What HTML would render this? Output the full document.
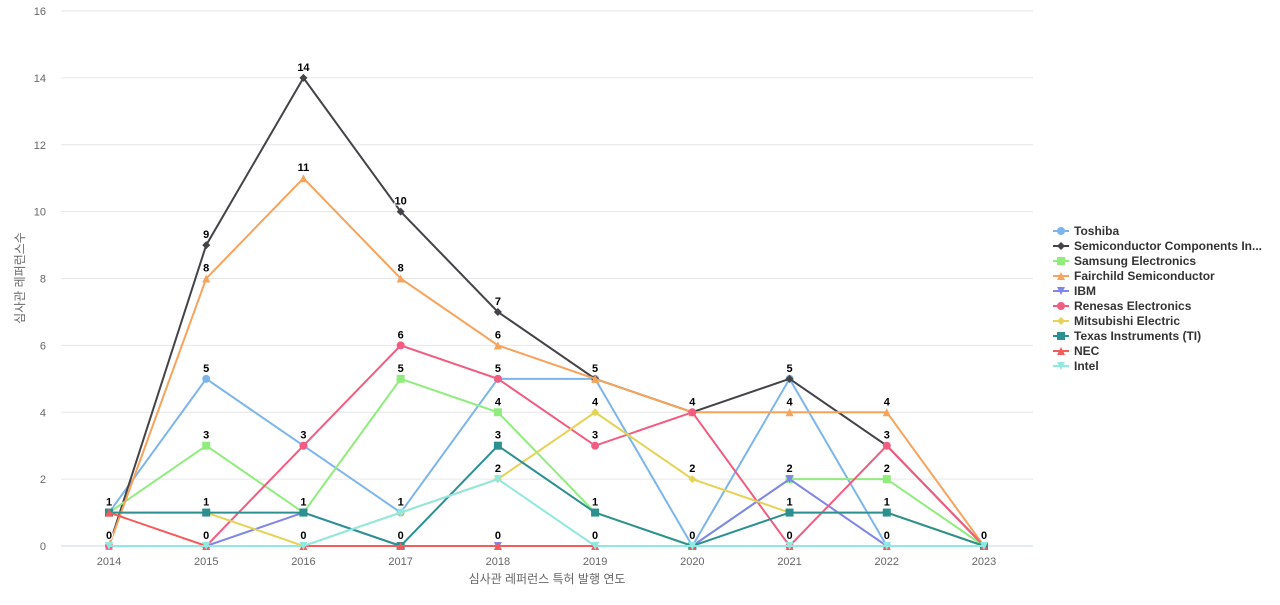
<!DOCTYPE html>
<html><head><meta charset="utf-8"><style>
body{margin:0;background:#fff;font-family:"Liberation Sans","Noto Sans CJK KR",sans-serif}
svg text{font-family:"Liberation Sans","Noto Sans CJK KR",sans-serif}
</style></head><body>
<svg id="chart" width="1280" height="600"></svg>
<script>
const years=[2014,2015,2016,2017,2018,2019,2020,2021,2022,2023];
const yTicks=[0,2,4,6,8,10,12,14,16];
const seriesNames=["Toshiba","Semiconductor Components In...","Samsung Electronics","Fairchild Semiconductor","IBM","Renesas Electronics","Mitsubishi Electric","Texas Instruments (TI)","NEC","Intel"];
const toshiba=[1,5,3,1,5,5,0,5,0,0];
const semiComp=[0,9,14,10,7,5,4,5,3,0];
const samsung=[1,3,1,5,4,1,0,2,2,0];
const fairchild=[0,8,11,8,6,5,4,4,4,0];
const ibm=[0,0,1,0,0,0,0,2,0,0];
const renesas=[0,0,3,6,5,3,4,0,3,0];
const mitsubishi=[1,1,0,1,2,4,2,1,1,0];
const ti=[1,1,1,0,3,1,0,1,1,0];
const nec=[1,0,0,0,0,0,0,0,0,0];
const intel=[0,0,0,1,2,0,0,0,0,0];
const allData=[toshiba,semiComp,samsung,fairchild,ibm,renesas,mitsubishi,ti,nec,intel];
const colors=["#7cb5ec","#434348","#90ed7d","#f7a35c","#8085e9","#f15c80","#e4d354","#2b908f","#f45b5b","#91e8e1"];
const markers=["circle","diamond","square","triangle","tridown","circle","diamond","square","triangle","tridown"];
const NS="http://www.w3.org/2000/svg";
const svg=document.getElementById('chart');
const x0=109,x1=984,yBase=546,yTop=11,yMax=16;
const xS=i=>x0+(x1-x0)*i/(years.length-1);
const yS=v=>yBase-(yBase-yTop)*v/yMax;
function mk(t,a,p){const e=document.createElementNS(NS,t);for(const k in a)e.setAttribute(k,a[k]);(p||svg).appendChild(e);return e;}
function marker(type,cx,cy,c,p){
 let e;
 if(type==="circle")e=mk('circle',{cx,cy,r:4,fill:c},p);
 else if(type==="square")e=mk('rect',{x:cx-4,y:cy-4,width:8,height:8,fill:c},p);
 else if(type==="diamond")e=mk('path',{d:`M${cx} ${cy-4}L${cx+4} ${cy}L${cx} ${cy+4}L${cx-4} ${cy}Z`,fill:c},p);
 else if(type==="triangle")e=mk('path',{d:`M${cx} ${cy-4}L${cx+4} ${cy+4}L${cx-4} ${cy+4}Z`,fill:c},p);
 else e=mk('path',{d:`M${cx-4} ${cy-4}L${cx+4} ${cy-4}L${cx} ${cy+4}Z`,fill:c},p);
 return e;
}
yTicks.forEach(v=>{
 const g=mk('line',{x1:61,x2:1033,y1:yS(v),y2:yS(v),stroke:v===0?'#ccd6eb':'#e6e6e6','stroke-width':1});
 
 
 const t=mk('text',{x:46,y:yS(v)+4,'text-anchor':'end','font-size':11,fill:'#666'});t.textContent=v;
 
 
});
years.forEach((yr,i)=>{
 const t=mk('text',{x:xS(i),y:565,'text-anchor':'middle','font-size':11,fill:'#666'});t.textContent=yr;
 
 
});
const xt=mk('text',{x:547,y:583,'text-anchor':'middle','font-size':12,fill:'#666'});xt.textContent='심사관 레퍼런스 특허 발행 연도';


const yt=mk('text',{x:0,y:0,'text-anchor':'middle','font-size':12,fill:'#666',transform:'translate(24,278) rotate(-90)'});yt.textContent='심사관 레퍼런스수';


const labelsG=[];
allData.forEach((d,s)=>{
 const g=mk('g',{});
 
 
 mk('path',{d:d.map((v,i)=>(i?'L':'M')+xS(i)+' '+yS(v)).join(''),fill:'none',stroke:colors[s],'stroke-width':2},g);
 d.forEach((v,i)=>{
  const m=marker(markers[s],xS(i),yS(v),colors[s],g);
  
  
 });
 const lg=mk('g',{});labelsG.push(lg);
 d.forEach((v,i)=>{
  const t=mk('text',{x:xS(i),y:yS(v)-7,'text-anchor':'middle','font-size':11,'font-weight':'bold',fill:'#000',stroke:'#fff','stroke-width':2,'paint-order':'stroke'},lg);
  t.textContent=v;
  
  
 });
});
labelsG.forEach(g=>svg.appendChild(g));
seriesNames.forEach((n,s)=>{
 const y=231+s*15;
 const g=mk('g',{});
 
 
 mk('line',{x1:1053,x2:1069,y1:y,y2:y,stroke:colors[s],'stroke-width':2},g);
 marker(markers[s],1061,y,colors[s],g);
 const t=mk('text',{x:1074,y:y+4,'font-size':12,'font-weight':'bold',fill:'#333'},g);t.textContent=n;
});
</script>
</body></html>
